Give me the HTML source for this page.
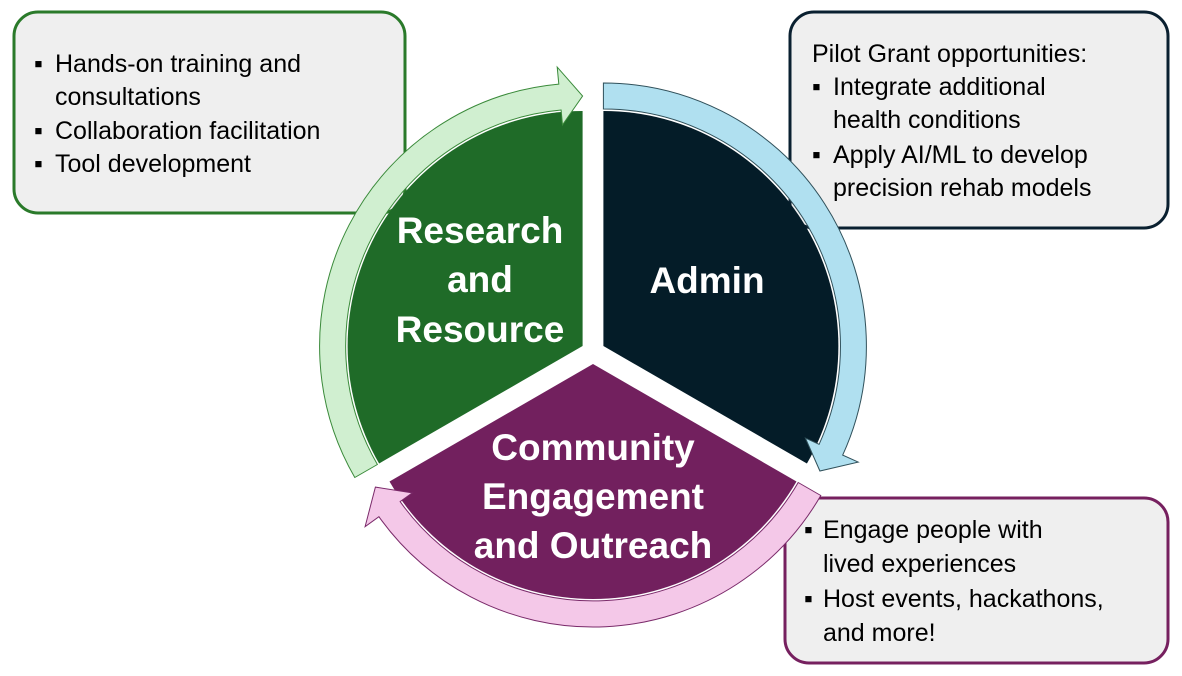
<!DOCTYPE html>
<html><head><meta charset="utf-8"><style>
html,body{margin:0;padding:0;background:#fff;}
svg{display:block;}
.t{font-family:"Liberation Sans",sans-serif;font-size:25px;fill:#000;}
.w{font-family:"Liberation Sans",sans-serif;font-weight:bold;font-size:37px;fill:#fff;text-anchor:middle;}
</style></head><body>
<svg width="1182" height="676" viewBox="0 0 1182 676" xmlns="http://www.w3.org/2000/svg">
<!-- boxes -->
<rect x="14" y="12" width="391" height="201" rx="24" fill="#efefef" stroke="#2a7a2a" stroke-width="3"/>
<rect x="790" y="12" width="378" height="216" rx="24" fill="#efefef" stroke="#0a2030" stroke-width="3"/>
<rect x="785" y="498" width="383" height="165" rx="24" fill="#efefef" stroke="#76205f" stroke-width="3"/>

<g class="t">
<text x="34" y="72">▪</text><text x="55" y="72">Hands-on training and</text>
<text x="55" y="105">consultations</text>
<text x="34" y="139">▪</text><text x="55" y="139">Collaboration facilitation</text>
<text x="34" y="172">▪</text><text x="55" y="172">Tool development</text>

<text x="812" y="62">Pilot Grant opportunities:</text>
<text x="812" y="95">▪</text><text x="833" y="95">Integrate additional</text>
<text x="833" y="128">health conditions</text>
<text x="812" y="163">▪</text><text x="833" y="163">Apply AI/ML to develop</text>
<text x="833" y="196">precision rehab models</text>

<text x="804" y="538">▪</text><text x="823" y="538">Engage people with</text>
<text x="823" y="572">lived experiences</text>
<text x="804" y="607">▪</text><text x="823" y="607">Host events, hackathons,</text>
<text x="823" y="641">and more!</text>
</g>

<!-- wedges -->
<path d="M582.6,346 L379.1,463.5 A235 235 0 0 1 582.6,111 Z" fill="#1f6b28"/>
<path d="M603.4,346 L603.4,111 A235 235 0 0 1 806.9,463.5 Z" fill="#041c28"/>
<path d="M593,364 L796.5,481.5 A235 235 0 0 1 389.5,481.5 Z" fill="#72205e"/>

<!-- arrows -->
<path d="M354.8,477.5 A263 263 0 0 1 558.8,84.1 L557.2,67.1 L582.6,96 L562.5,124.9 L561.1,110 A237 237 0 0 0 377.4,464.5 Z" fill="#d0efd0" stroke="#3a8a3a" stroke-width="1"/>
<path d="M603.4,83 A263 263 0 0 1 842.7,455.1 L858.2,462.1 L819.9,471 L805.4,438.1 L819.1,444.3 A237 237 0 0 0 603.4,109 Z" fill="#b0e0f0" stroke="#30505a" stroke-width="1"/>
<path d="M820.8,495.5 A263 263 0 0 1 378.9,516.7 L365.1,526.6 L375.4,487.1 L412.3,492.9 L400.1,501.6 A237 237 0 0 0 798.2,482.5 Z" fill="#f4c8e8" stroke="#7a2a6a" stroke-width="1"/>

<!-- labels -->
<text class="w" x="480" y="243">Research</text>
<text class="w" x="480" y="292">and</text>
<text class="w" x="480" y="342">Resource</text>
<text class="w" x="707" y="293">Admin</text>
<text class="w" x="593" y="460">Community</text>
<text class="w" x="593" y="509">Engagement</text>
<text class="w" x="593" y="558">and Outreach</text>
</svg>
</body></html>
